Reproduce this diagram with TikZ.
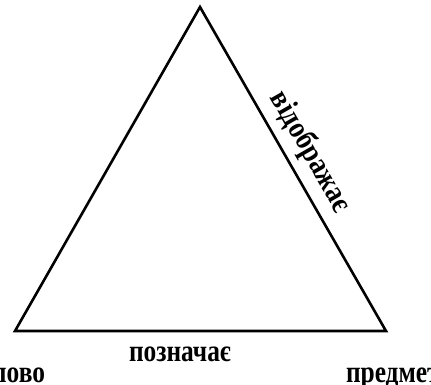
\documentclass[tikz,border=0pt]{standalone}
\usepackage{fontspec}
\setmainfont{Liberation Serif}
\tikzset{
  lbl/.style={font=\fontsize{31}{31}\selectfont\bfseries, inner sep=0pt, outer sep=0pt},
  edge/.style={line width=2.6pt, line join=miter}
}
\newcommand{\nar}[1]{\scalebox{0.82}[1]{#1}}
\begin{document}
\begin{tikzpicture}[x=1pt,y=-1pt]
\useasboundingbox (0,0) rectangle (431,385);
\coordinate (top) at (200,7);
\coordinate (bl) at (15,331);
\coordinate (br) at (386,331);
\draw[edge] (top) -- (bl) -- (br) -- cycle;
\node[lbl, anchor=base east] (slovo) at (45,382) {\nar{слово}};
\node[lbl, anchor=base] (poznachae) at (180,361) {\nar{позначає}};
\node[lbl, anchor=base west] (predmet) at (346,382) {\nar{предмет}};
\node[lbl, anchor=center, rotate=-60.2] (vidobrazhae) at (310,152) {\scalebox{0.86}[1]{відображає}};
\end{tikzpicture}
\end{document}
